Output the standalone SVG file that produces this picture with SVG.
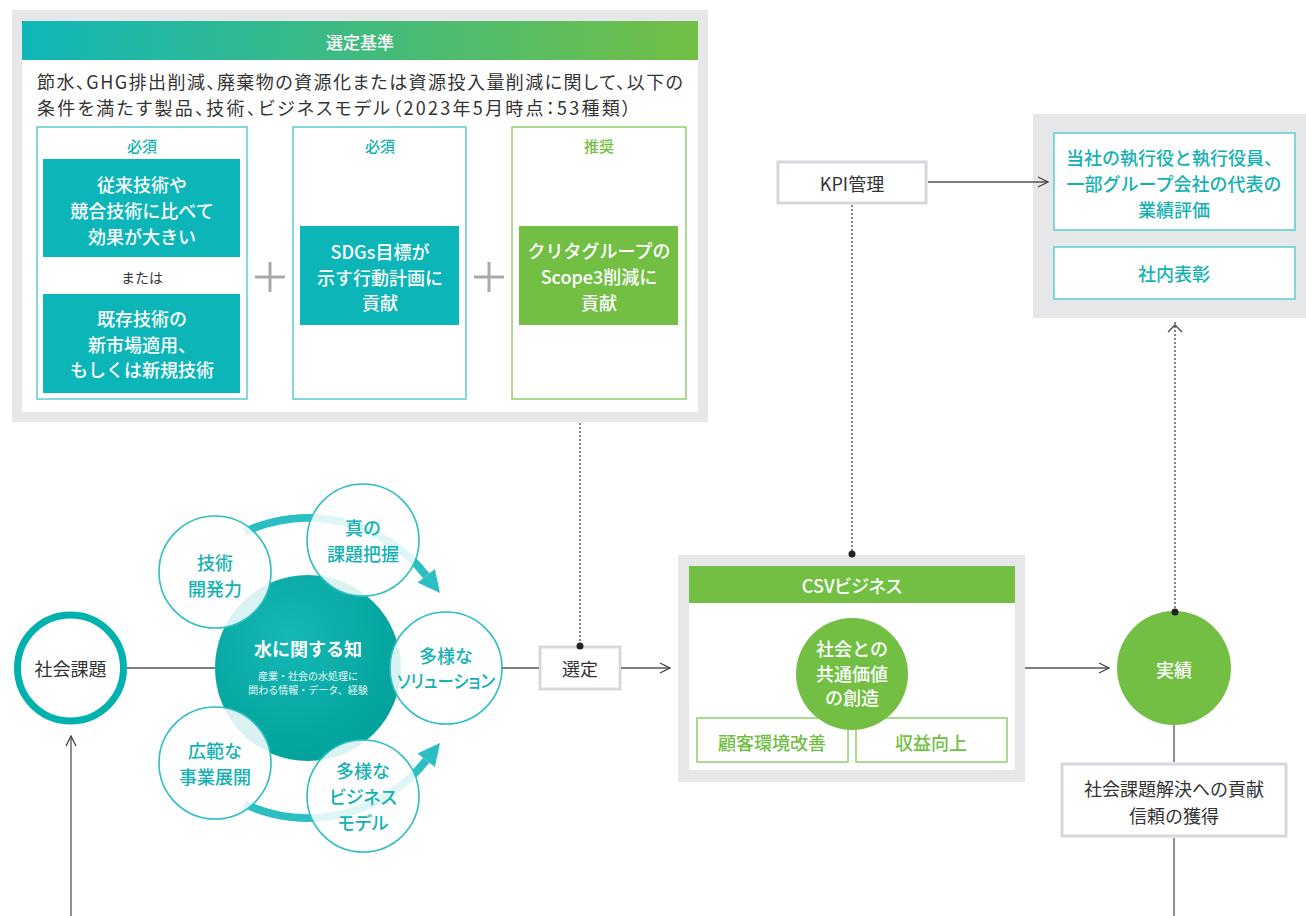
<svg xmlns="http://www.w3.org/2000/svg" width="1306" height="916" viewBox="0 0 1306 916">
<defs>
<linearGradient id="hdr" x1="0" y1="0" x2="1" y2="0">
<stop offset="0" stop-color="#0fb6b8"/>
<stop offset="1" stop-color="#72bf44"/>
</linearGradient>
<radialGradient id="core" cx="0.4" cy="0.35" r="0.75">
<stop offset="0" stop-color="#16b8b4"/>
<stop offset="1" stop-color="#009f98"/>
</radialGradient>
<marker id="chev" viewBox="0 0 12 12" refX="11" refY="6" markerWidth="12" markerHeight="12" markerUnits="userSpaceOnUse" orient="auto">
<path d="M1 1 L11 6 L1 11" fill="none" stroke="#444" stroke-width="1.3"/>
</marker>
</defs>
<style>
text{font-family:"Noto Sans CJK JP","Noto Sans",sans-serif;text-anchor:middle;dominant-baseline:central}
.pk{font-feature-settings:"palt"}
.panel{fill:#e6e7e9}
.wbox{fill:#fff}
.gbox{fill:#fff;stroke:#d5d8dd;stroke-width:3}
.tealfill{fill:#0cb6b8}
.greenfill{fill:#72bf44}
.tl{fill:#fff;stroke:#5ccdd0;stroke-width:1.5}
.gl{fill:#fff;stroke:#8fd06a;stroke-width:1.5}
.wt{fill:#fff;font-size:18px;font-weight:500}
.tt{fill:#14b1b3;font-size:18px;font-weight:500}
.gt{fill:#72bf44;font-size:18px;font-weight:500}
.dk{fill:#333;font-size:18px}
.line{stroke:#555;stroke-width:1.3;fill:none}
.dot{stroke:#666;stroke-width:1.6;stroke-dasharray:2 2;fill:none}
.sc{fill:#fff;fill-opacity:0.85;stroke:#2bbfc3;stroke-width:1.6}
.arc{fill:none;stroke:#2bbfc3;stroke-width:8}
.plus{stroke:#a7a9ac;stroke-width:3}
</style>

<g id="criteria">
<rect class="panel" x="12" y="10" width="696" height="412"/>
<rect class="wbox" x="22" y="21" width="676" height="391"/>
<rect x="22" y="21" width="676" height="39" fill="url(#hdr)"/>
<text x="360" y="41" fill="#fff" font-size="17" font-weight="500">選定基準</text>
<text class="pk" x="37" y="81" style="text-anchor:start" fill="#333" font-size="18" textLength="646" lengthAdjust="spacing">節水、GHG排出削減、廃棄物の資源化または資源投入量削減に関して、以下の</text>
<text class="pk" x="37" y="107" style="text-anchor:start" fill="#333" font-size="18" textLength="594" lengthAdjust="spacing">条件を満たす製品、技術、ビジネスモデル（2023年5月時点：53種類）</text>
</g>

<g id="req1">
<rect class="tl" x="37" y="127" width="210" height="272"/>
<text x="142" y="145" fill="#14b1b3" font-size="15" font-weight="500">必須</text>
<rect class="tealfill" x="43" y="159" width="197" height="98"/>
<text class="wt" x="142" y="184">従来技術や</text>
<text class="wt" x="142" y="210">競合技術に比べて</text>
<text class="wt" x="142" y="236">効果が大きい</text>
<text x="142" y="277" fill="#333" font-size="14">または</text>
<rect class="tealfill" x="43" y="294" width="197" height="99"/>
<text class="wt" x="142" y="318">既存技術の</text>
<text class="wt" x="142" y="344">新市場適用、</text>
<text class="wt" x="142" y="369">もしくは新規技術</text>
</g>

<g id="plus1"><line class="plus" x1="255" y1="277" x2="285" y2="277"/><line class="plus" x1="270" y1="262" x2="270" y2="292"/></g>

<g id="req2">
<rect class="tl" x="293" y="127" width="173" height="272"/>
<text x="380" y="145" fill="#14b1b3" font-size="15" font-weight="500">必須</text>
<rect class="tealfill" x="300" y="226" width="159" height="99"/>
<text class="wt" x="380" y="251">SDGs目標が</text>
<text class="wt" x="380" y="277">示す行動計画に</text>
<text class="wt" x="380" y="302">貢献</text>
</g>

<g id="plus2"><line class="plus" x1="474" y1="277" x2="504" y2="277"/><line class="plus" x1="489" y1="262" x2="489" y2="292"/></g>

<g id="rec">
<rect class="gl" x="512" y="127" width="174" height="272"/>
<text x="599" y="145" fill="#72bf44" font-size="15" font-weight="500">推奨</text>
<rect class="greenfill" x="519" y="226" width="159" height="99"/>
<text class="wt" x="599" y="250">クリタグループの</text>
<text class="wt" x="599" y="276">Scope3削減に</text>
<text class="wt" x="599" y="302">貢献</text>
</g>

<g id="kpi">
<rect class="gbox" x="778" y="162" width="148" height="41"/>
<text class="dk" x="852" y="183" font-size="17">KPI管理</text>
</g>

<g id="evaluation">
<rect class="panel" x="1033" y="114" width="273" height="204"/>
<rect class="tl" x="1054" y="133" width="241" height="97"/>
<text class="tt" x="1174" y="157">当社の執行役と執行役員、</text>
<text class="tt" x="1174" y="183">一部グループ会社の代表の</text>
<text class="tt" x="1174" y="209">業績評価</text>
<rect class="tl" x="1054" y="247" width="241" height="52"/>
<text class="tt" x="1174" y="273">社内表彰</text>
</g>

<g id="social-issue">
<circle cx="70.5" cy="668" r="53" fill="#fff" stroke="#00b1ae" stroke-width="7"/>
<text class="dk" x="70.5" y="668">社会課題</text>
</g>

<g id="knowledge">
<path class="arc" d="M244.6 532.1 A150 150 0 0 1 426.2 575.7"/>
<polygon points="434.9,568.9 417.5,582.5 440,593" fill="#2bbfc3"/>
<path class="arc" d="M244.6 803.9 A150 150 0 0 0 426.2 760.3"/>
<polygon points="434.9,767.1 417.5,753.5 440,743" fill="#2bbfc3"/>
<circle cx="308" cy="668" r="93" fill="url(#core)"/>
<text x="308" y="648" fill="#fff" font-size="18" font-weight="bold">水に関する知</text>
<text x="308" y="675" fill="#e8f8f7" font-size="10">産業・社会の水処理に</text>
<text x="308" y="689" fill="#e8f8f7" font-size="10">関わる情報・データ、経験</text>
</g>

<g id="tech">
<circle class="sc" cx="215" cy="572" r="56"/>
<text class="tt" x="215" y="562">技術</text>
<text class="tt" x="215" y="588">開発力</text>
</g>
<g id="insight">
<circle class="sc" cx="363" cy="540" r="56"/>
<text class="tt" x="363" y="527">真の</text>
<text class="tt" x="363" y="553">課題把握</text>
</g>
<g id="solutions">
<circle class="sc" cx="446" cy="668" r="56"/>
<text class="tt" x="446" y="655">多様な</text>
<text class="tt pk" x="446" y="680" textLength="98" lengthAdjust="spacingAndGlyphs">ソリューション</text>
</g>
<g id="business">
<circle class="sc" cx="215" cy="763" r="56"/>
<text class="tt" x="215" y="750">広範な</text>
<text class="tt" x="215" y="776">事業展開</text>
</g>
<g id="models">
<circle class="sc" cx="363" cy="796" r="56"/>
<text class="tt" x="363" y="770">多様な</text>
<text class="tt pk" x="363" y="796">ビジネス</text>
<text class="tt pk" x="363" y="822">モデル</text>
</g>

<g id="selection">
<rect class="gbox" x="540" y="647" width="80" height="42"/>
<text class="dk" x="580" y="668" font-size="17">選定</text>
</g>

<g id="csv">
<rect class="panel" x="678" y="555" width="347" height="227"/>
<rect class="wbox" x="689" y="566" width="326" height="204"/>
<rect class="greenfill" x="689" y="566" width="326" height="37"/>
<text class="wt pk" x="852" y="585">CSVビジネス</text>
<rect class="gl" x="697" y="718" width="151" height="44"/>
<text class="gt" x="772" y="742">顧客環境改善</text>
<rect class="gl" x="856" y="718" width="151" height="44"/>
<text class="gt" x="931" y="742">収益向上</text>
<circle cx="852" cy="674" r="56" fill="#72bf44"/>
<text class="wt" x="852" y="648">社会との</text>
<text class="wt" x="852" y="673">共通価値</text>
<text class="wt" x="852" y="697">の創造</text>
</g>

<g id="results">
<circle cx="1174" cy="668" r="57" fill="#72bf44"/>
<text class="wt" x="1174" y="669">実績</text>
</g>

<g id="contribution">
<rect class="gbox" x="1062" y="764" width="224" height="72"/>
<text class="dk" x="1174" y="788">社会課題解決への貢献</text>
<text class="dk" x="1174" y="815">信頼の獲得</text>
</g>

<g id="connectors">
<line class="dot" x1="580" y1="423" x2="580" y2="645"/>
<circle cx="580" cy="646" r="3.5" fill="#222"/>
<line class="dot" x1="852" y1="205" x2="852" y2="553"/>
<circle cx="852" cy="554" r="3.5" fill="#222"/>
<line class="dot" x1="1175" y1="322" x2="1175" y2="611"/>
<circle cx="1175" cy="612" r="3.5" fill="#222"/>
<path d="M1168 332 L1175 325 L1182 332" fill="none" stroke="#444" stroke-width="1.3"/>
<line class="line" x1="928" y1="182" x2="1048" y2="182" marker-end="url(#chev)"/>
<line class="line" x1="127" y1="668" x2="215" y2="668"/>
<line class="line" x1="502" y1="668" x2="539" y2="668"/>
<line class="line" x1="621" y1="668" x2="670" y2="668" marker-end="url(#chev)"/>
<line class="line" x1="1025" y1="668" x2="1109" y2="668" marker-end="url(#chev)"/>
<line class="line" x1="1174" y1="725" x2="1174" y2="762"/>
<line class="line" x1="1174" y1="838" x2="1174" y2="916"/>
<line class="line" x1="71" y1="916" x2="71" y2="736" marker-end="url(#chev)"/>
</g>
</svg>
